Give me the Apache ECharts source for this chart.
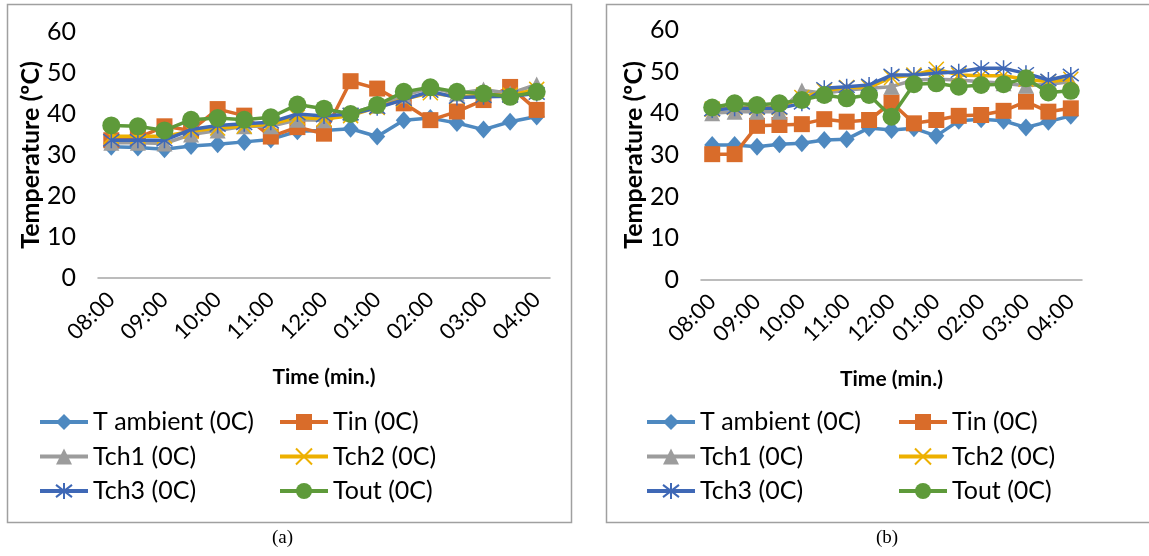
<!DOCTYPE html>
<html>
<head>
<meta charset="utf-8">
<script src="https://cdn.jsdelivr.net/npm/echarts@6/dist/echarts.min.js"></script>
<style>
  html, body { margin: 0; padding: 0; background: #fff; }
  #chart { width: 1149px; height: 556px; }
</style>
</head>
<body>
<div id="chart"></div>
<script>
// ---- Data ----
const categories = ['08:00','08:30','09:00','09:30','10:00','10:30','11:00','11:30','12:00','12:30','01:00','01:30','02:00','02:30','03:00','03:30','04:00'];
const seriesNames = ['T ambient (0C)', 'Tin (0C)', 'Tch1 (0C)', 'Tch2 (0C)', 'Tch3 (0C)', 'Tout (0C)'];
const yTicks = [0, 10, 20, 30, 40, 50, 60];

// Panel (a)
const aAmbient = [32, 31.8, 31.4, 32.2, 32.6, 33.2, 33.8, 35.8, 36, 36.4, 34.5, 38.5, 39, 37.8, 36.2, 38.1, 39.4];
const aTin     = [33.6, 34.2, 37, 36, 41.2, 39.6, 34.5, 36.8, 35.2, 48, 46.2, 42.6, 38.5, 40.6, 43.4, 46.6, 41];
const aTch1    = [33, 33, 32.8, 35, 36, 37, 37, 38.6, 38.5, 40.2, 42, 44.5, 46.4, 45, 46, 45, 47.2];
const aTch2    = [34.6, 34.6, 34.6, 35.8, 36.6, 37, 37.5, 39.2, 38.8, 39.6, 41.6, 43.6, 45.2, 44.2, 44.6, 44.6, 46];
const aTch3    = [33.6, 33.6, 33.6, 36.2, 37.2, 37.6, 38, 40, 39.5, 40, 41.5, 43.5, 45.5, 44, 44.2, 44.3, 45];
const aTout    = [37.2, 37, 36, 38.6, 39, 38.6, 39.2, 42.3, 41.3, 40, 42.2, 45.4, 46.5, 45.4, 45, 44.2, 45.4];

// Panel (b)
const bAmbient = [32.4, 32.4, 32, 32.6, 32.8, 33.6, 33.8, 36.5, 36, 36.4, 34.6, 38.2, 38.6, 38.2, 36.6, 38, 39.4];
const bTin     = [30.2, 30.2, 37, 37.2, 37.4, 38.6, 38, 38.4, 42.6, 37.6, 38.4, 39.4, 39.6, 40.6, 42.8, 40.4, 41.2];
const bTch1    = [40, 40.4, 40.4, 40.4, 45.5, 44.8, 45.6, 46, 46.4, 48, 48.2, 48, 47.6, 47.2, 46.6, 47, 47.6];
const bTch2    = [41, 41.4, 41.4, 41.4, 43.8, 45.4, 46.2, 46.2, 48.6, 49.2, 50.6, 49.2, 49, 49, 48.2, 47.6, 48.2];
const bTch3    = [40.8, 41.2, 41.2, 41.2, 42.4, 46, 46.4, 46.8, 49.2, 49.2, 49.6, 50, 50.8, 50.8, 49.6, 48, 49.2];
const bTout    = [41.4, 42.4, 42, 42.4, 43.2, 44.4, 43.6, 44.4, 39.2, 47, 47.2, 46.4, 46.8, 47, 48.4, 45, 45.4];

const panelA = [aAmbient, aTin, aTch1, aTch2, aTch3, aTout];
const panelB = [bAmbient, bTin, bTch1, bTch2, bTch3, bTout];

// ---- Styles ----
const colors = ['#4E89C0', '#D96C2A', '#9C9C9C', '#EDB000', '#3F68B6', '#5E9A3A'];
const crossPath = 'path://M0,0L10,10M10,0L0,10';
const starPath = 'path://M5,0L5,10M1.2,1.2L8.8,8.8M8.8,1.2L1.2,8.8';
const symbols = ['diamond', 'rect', 'triangle', crossPath, starPath, 'circle'];
const symSizes = [[16, 18], 16, 16, 15, 16, 18];
const FONT = 'Lato, "Open Sans", sans-serif';

function makeSeries(data, idx) {
  return data.map((vals, i) => {
    const stroked = (i === 3 || i === 4);
    return {
      name: seriesNames[i],
      type: 'line',
      xAxisIndex: idx, yAxisIndex: idx,
      data: vals,
      symbol: symbols[i],
      symbolSize: symSizes[i],
      showAllSymbol: true,
      lineStyle: { color: colors[i], width: 3.5 },
      itemStyle: stroked
        ? { color: 'rgba(0,0,0,0)', borderColor: colors[i], borderWidth: 1.5 }
        : { color: colors[i], borderWidth: 0 },
      emphasis: { disabled: true },
      z: 2 + i
    };
  });
}

const grids = [
  { left: 98, top: 32, width: 452, height: 246 },
  { left: 701, top: 30, width: 381, height: 250 }
];

function xAxis(idx) {
  return {
    type: 'category', gridIndex: idx, data: categories, boundaryGap: true,
    axisLine: { lineStyle: { color: '#A6A6A6', width: 1.5 } },
    axisTick: { show: false },
    axisLabel: { interval: 1, rotate: 45, fontFamily: FONT, fontSize: 22, color: '#000', margin: 18 },
    name: 'Time (min.)', nameLocation: 'middle', nameGap: 89,
    nameTextStyle: { fontFamily: FONT, fontSize: 21, fontWeight: 'bold', color: '#000' }
  };
}
function yAxis(idx) {
  return {
    type: 'value', gridIndex: idx, min: yTicks[0], max: yTicks[yTicks.length - 1], interval: 10,
    axisLine: { show: false }, axisTick: { show: false }, splitLine: { show: false },
    axisLabel: { fontFamily: FONT, fontSize: 25, color: '#000', margin: 22 },
    name: 'Temperature (ºC)', nameLocation: 'middle', nameGap: 52,
    nameTextStyle: { fontFamily: FONT, fontSize: 25, fontWeight: 'bold', color: '#000' }
  };
}

function legend(left, names) {
  return {
    left: left, top: 408, orient: 'vertical', padding: 0,
    itemWidth: 48, itemHeight: 20, itemGap: 6.5,
    data: names,
    selectedMode: false,
    lineStyle: { width: 4 },
    textStyle: { fontFamily: FONT, fontSize: 25, color: '#000', lineHeight: 28 }
  };
}

const option = {
  animation: false,
  backgroundColor: '#fff',
  grid: grids,
  xAxis: [xAxis(0), xAxis(1)],
  yAxis: [yAxis(0), yAxis(1)],
  legend: [
    legend(38, [seriesNames[0], seriesNames[2], seriesNames[4]]),
    legend(278, [seriesNames[1], seriesNames[3], seriesNames[5]]),
    legend(645, [seriesNames[0], seriesNames[2], seriesNames[4]]),
    legend(897, [seriesNames[1], seriesNames[3], seriesNames[5]])
  ],
  series: makeSeries(panelA, 0).concat(makeSeries(panelB, 1)),
  graphic: [
    { type: 'rect', shape: { x: 7.5, y: 4.5, width: 564, height: 518 }, style: { fill: 'none', stroke: '#A0A0A0', lineWidth: 1.5 }, z: -1 },
    { type: 'rect', shape: { x: 606.5, y: 4.5, width: 600, height: 518 }, style: { fill: 'none', stroke: '#A0A0A0', lineWidth: 1.5 }, z: -1 },
    { type: 'text', left: 272, top: 529, style: { text: '(a)', font: '19px "Liberation Serif", "Times New Roman", serif', fill: '#000' } },
    { type: 'text', left: 876, top: 529, style: { text: '(b)', font: '19px "Liberation Serif", "Times New Roman", serif', fill: '#000' } }
  ]
};

const chart = echarts.init(document.getElementById('chart'), null, { renderer: 'canvas' });
chart.setOption(option);
</script>
</body>
</html>
